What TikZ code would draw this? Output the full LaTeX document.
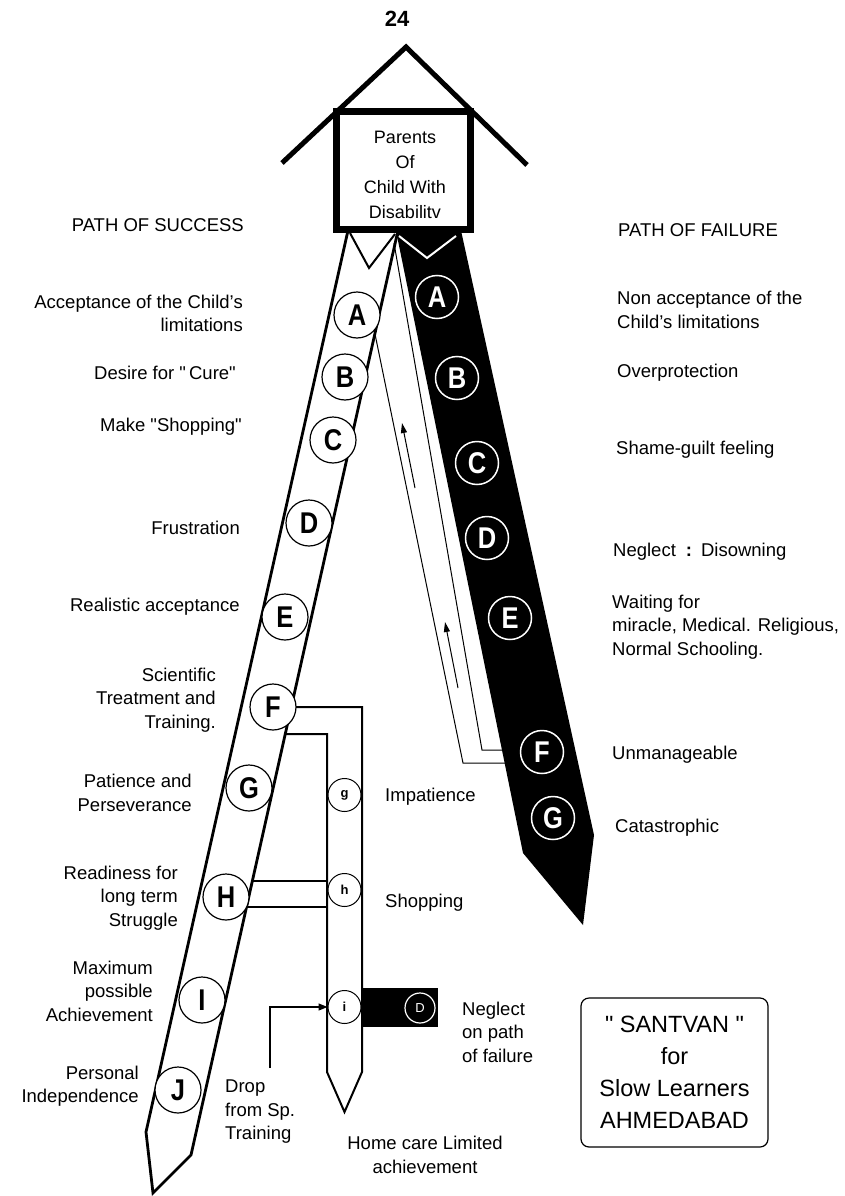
\documentclass[tikz,border=0pt]{standalone}
\usepackage{fontspec}
\setmainfont{Liberation Sans}
\newfontfamily\circfont[FakeStretch=0.85]{Liberation Sans}
\usetikzlibrary{arrows.meta}
\newcommand{\sq}{\XeTeXglyph\the\XeTeXcharglyph"22\relax}
\begin{document}
\begin{tikzpicture}[x=1pt,y=-1pt,
  lbl/.style={font=\fontsize{18.5}{23.5}\selectfont, inner sep=0pt},
  lblL/.style={lbl,anchor=east,align=right},
  lblR/.style={lbl,anchor=west,align=left},
  bigletter/.style={font=\circfont\bfseries\fontsize{30}{30}\selectfont},
  scirc/.style={circle,draw=black,line width=1.2pt,fill=white,minimum size=46pt,inner sep=0pt,bigletter},
  fcirc/.style={circle,draw=white,line width=1.5pt,fill=black,text=white,minimum size=43pt,inner sep=0pt,bigletter},
  mcirc/.style={circle,draw=black,line width=1pt,fill=white,minimum size=33pt,inner sep=0pt,font=\bfseries\fontsize{13}{13}\selectfont},
  bandedge/.style={line width=2.8pt,line join=miter},
  midline/.style={line width=2pt,line join=miter},
  thinline/.style={line width=1pt},
  upArrow/.style={thinline,-{Triangle[length=10pt,width=6pt]}}
]
\fill[white] (0,0) rectangle (844,1196);
\useasboundingbox (0,0) rectangle (844,1196);

% path of failure (black band)
\fill[black] (395,226) -- (460,226) -- (594,835) -- (583,925) -- (523,853) -- cycle;
\draw[white, line width=2pt] (399,236) -- (427,258) -- (456,236);

% path of success (white band)
\draw[bandedge, fill=white] (349,226) -- (146,1132) -- (153,1193) -- (191,1155) -- (399,226) -- cycle;
\draw[line width=2pt] (350,233) -- (369,268) -- (395,234);

% return lines between the two paths
\draw[thinline] (375,334) -- (463,763) -- (510,763);
\draw[thinline] (394,243) -- (482,750) -- (506,750);
\draw[upArrow] (415,488) -- (402,423);
\draw[upArrow] (458,688) -- (445,622);

% middle path
\draw[midline] (292,707) -- (362,707) -- (362,1072) -- (344.5,1112) -- (327,1072) -- (327,734) -- (286,734);
\draw[midline] (253,881) -- (327,881);
\draw[midline] (247,907) -- (327,907);
\fill[black] (362,988) rectangle (438,1027);

% house
\draw[line width=5pt] (282,163) -- (406,47) -- (527,165);
\node[draw, line width=7pt, fill=white, minimum width=134pt, minimum height=118pt, inner sep=0pt] (house) at (403.5,170.5) {};
\node[font=\fontsize{18}{25}\selectfont, align=center, inner sep=0pt] (parents) at (405,175) {Parents\\Of\\Child With\\Disabilitv};
\node[font=\bfseries\fontsize{22}{22}\selectfont, inner sep=0pt] (pageno) at (397,19) {24};

% success circles
\node[scirc] (sA) at (357,315) {A};
\node[scirc] (sB) at (345,377) {B};
\node[scirc] (sC) at (333,440) {C};
\node[scirc] (sD) at (309,523) {D};
\node[scirc] (sE) at (285,617) {E};
\node[scirc] (sF) at (273,707) {F};
\node[scirc] (sG) at (249,788) {G};
\node[scirc] (sH) at (226,897) {H};
\node[scirc] (sI) at (202,1000) {I};
\node[scirc] (sJ) at (178,1090) {J};

% failure circles
\node[fcirc] (fA) at (437,297) {A};
\node[fcirc] (fB) at (457,378) {B};
\node[fcirc] (fC) at (477,463) {C};
\node[fcirc] (fD) at (487,538) {D};
\node[fcirc] (fE) at (510,618) {E};
\node[fcirc] (fF) at (542,752) {F};
\node[fcirc] (fG) at (553,818) {G};

% middle circles
\node[mcirc] (mg) at (344.5,795) {g};
\node[mcirc] (mh) at (344.5,890) {h};
\node[mcirc] (mi) at (344.5,1007) {i};
\node[circle, draw=white, line width=1.2pt, fill=black, text=white, minimum size=30pt, inner sep=0pt, font=\fontsize{13}{13}\selectfont] (mD) at (420,1008) {D};
\coordinate (dropstart) at (270,1068);
\draw[line width=1.3pt,-{Triangle[length=9pt,width=7pt]}] (dropstart) |- (mi.west);

% left labels
\node[lblL] (tS) at (244,225) {PATH OF SUCCESS};
\node[lblL] (tsA) at (243,313.5) {Acceptance of the Child's\\limitations};
\node[lblL] (tsB) at (236,373) {Desire for \sq\,Cure\sq};
\node[lblL] (tsC) at (242,427) {Make \sq Shopping\sq};
\node[lblL] (tsD) at (240,528) {Frustration};
\node[lblL] (tsE) at (240,607) {Realistic acceptance};
\node[lblL] (tsF) at (216,700) {Scientific\\Treatment and\\Training.};
\node[lblL] (tsG) at (192,793) {Patience and\\Perseverance};
\node[lblL] (tsH) at (178,898) {Readiness for\\long term\\Struggle};
\node[lblL] (tsI) at (153,991) {Maximum\\possible\\Achievement};
\node[lblL] (tsJ) at (139,1086) {Personal\\Independence};

% right labels
\node[lblR] (tF) at (618,230) {PATH OF FAILURE};
\node[lblR] (tfA) at (617,310) {Non acceptance of the\\Child's limitations};
\node[lblR] (tfB) at (617,373) {Overprotection};
\node[lblR] (tfC) at (616,450) {Shame-guilt feeling};
\node[lblR] (tfD) at (613,552) {Neglect\hspace{10pt}\textbf{:}\hspace{9pt}Disowning};
\node[lblR] (tfE) at (612,627) {Waiting for\\miracle, Medical. Religious,\\Normal Schooling.};
\node[lblR] (tfF) at (612,755) {Unmanageable};
\node[lblR] (tfG) at (615,828) {Catastrophic};

% middle labels
\node[lblR] (tmg) at (385,797) {Impatience};
\node[lblR] (tmh) at (385,903) {Shopping};
\node[lblR] (tmD) at (462,1032) {Neglect\\on path\\of failure};
\node[lblR] (tdrop) at (225,1112) {Drop\\from Sp.\\Training};
\node[lbl, align=center] (thome) at (425,1155) {Home care Limited\\achievement};

% santvan box
\node[draw, line width=1.2pt, rounded corners=8pt, minimum width=187pt, minimum height=149pt, inner sep=0pt, font=\fontsize{23.5}{32}\selectfont, align=center] (santvan) at (674.5,1072.5) {\sq\ SANTVAN \sq\\for\\Slow Learners\\AHMEDABAD};
\end{tikzpicture}
\end{document}
